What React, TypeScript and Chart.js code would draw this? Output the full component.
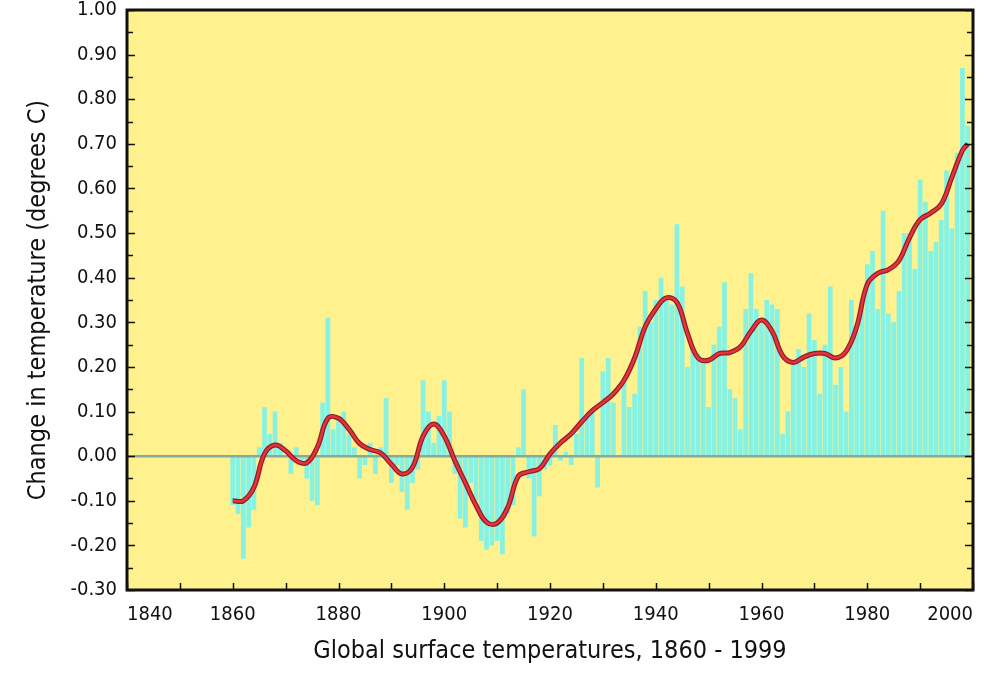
import React, { useEffect, useRef } from 'react';
import { Chart, registerables } from 'chart.js';

Chart.register(...registerables);

// Annual global surface temperature change, 1860 - 1999 (degrees C)
const startYear = 1860;
const annualAnomaly = [
  // 1860-1869
  -0.11, -0.13, -0.23, -0.16, -0.12, 0.02, 0.11, 0.05, 0.10, 0.03,
  // 1870-1879
  0.00, -0.04, 0.02, -0.02, -0.05, -0.10, -0.11, 0.12, 0.31, 0.06,
  // 1880-1889
  0.08, 0.10, 0.05, 0.02, -0.05, -0.02, 0.03, -0.04, 0.02, 0.13,
  // 1890-1899
  -0.06, -0.02, -0.08, -0.12, -0.06, -0.03, 0.17, 0.10, 0.03, 0.09,
  // 1900-1909
  0.17, 0.10, -0.04, -0.14, -0.16, -0.06, -0.10, -0.19, -0.21, -0.20,
  // 1910-1919
  -0.19, -0.22, -0.13, -0.11, 0.02, 0.15, -0.05, -0.18, -0.09, -0.03,
  // 1920-1929
  -0.02, 0.07, -0.01, 0.01, -0.02, 0.05, 0.22, 0.09, 0.10, -0.07,
  // 1930-1939
  0.19, 0.22, 0.12, 0.00, 0.17, 0.11, 0.14, 0.29, 0.37, 0.30,
  // 1940-1949
  0.35, 0.40, 0.35, 0.34, 0.52, 0.38, 0.20, 0.24, 0.23, 0.21,
  // 1950-1959
  0.11, 0.25, 0.29, 0.39, 0.15, 0.13, 0.06, 0.33, 0.41, 0.33,
  // 1960-1969
  0.30, 0.35, 0.34, 0.33, 0.05, 0.10, 0.21, 0.24, 0.20, 0.32,
  // 1970-1979
  0.26, 0.14, 0.25, 0.38, 0.16, 0.20, 0.10, 0.35, 0.28, 0.35,
  // 1980-1989
  0.43, 0.46, 0.33, 0.55, 0.32, 0.30, 0.37, 0.50, 0.50, 0.42,
  // 1990-1999
  0.62, 0.57, 0.46, 0.48, 0.53, 0.64, 0.51, 0.68, 0.87, 0.74,
];

// Smoothed curve
const smoothYears = [
  1860, 1862, 1864, 1866, 1868, 1870, 1872, 1874, 1876, 1878,
  1880, 1882, 1884, 1886, 1888, 1890, 1892, 1894, 1896, 1898,
  1900, 1902, 1904, 1906, 1908, 1910, 1912, 1914, 1916, 1918,
  1920, 1922, 1924, 1926, 1928, 1930, 1932, 1934, 1936, 1938,
  1940, 1942, 1944, 1946, 1948, 1950, 1952, 1954, 1956, 1958,
  1960, 1962, 1964, 1966, 1968, 1970, 1972, 1974, 1976, 1978,
  1980, 1982, 1984, 1986, 1988, 1990, 1992, 1994, 1996, 1998, 1999,
];
const smoothAnomaly = [
  -0.10, -0.10, -0.07, 0.005, 0.025, 0.012, -0.01, -0.015, 0.02, 0.085,
  0.085, 0.06, 0.028, 0.015, 0.007, -0.018, -0.04, -0.025, 0.045, 0.072,
  0.045, -0.01, -0.06, -0.11, -0.148, -0.15, -0.115, -0.045, -0.035, -0.028,
  0.005, 0.03, 0.05, 0.077, 0.102, 0.12, 0.14, 0.17, 0.22, 0.29,
  0.33, 0.355, 0.345, 0.275, 0.22, 0.215, 0.23, 0.232, 0.245, 0.28,
  0.305, 0.28, 0.225, 0.21, 0.222, 0.23, 0.23, 0.22, 0.235, 0.29,
  0.385, 0.41, 0.418, 0.438, 0.49, 0.53, 0.545, 0.565, 0.625, 0.685, 0.70,
];

const xMin = 1840;
const xMax = 2000;
const yMin = -0.3;
const yMax = 1.0;

const FONT = "'DejaVu Sans Condensed', 'Liberation Sans Narrow', 'Arial Narrow', sans-serif";

const framePlugin = {
  id: 'frame',
  beforeDraw(chart: any) {
    const { ctx, chartArea } = chart;
    ctx.save();
    ctx.fillStyle = '#FFF28E';
    ctx.fillRect(chartArea.left, chartArea.top, chartArea.right - chartArea.left, chartArea.bottom - chartArea.top);
    ctx.restore();
  },
  afterDraw(chart: any) {
    const { ctx, chartArea, scales } = chart;
    const { left, right, top, bottom } = chartArea;
    ctx.save();
    ctx.strokeStyle = '#111';
    // inward tick marks
    ctx.lineWidth = 1.5;
    const ys = scales.y;
    for (let k = 0; k <= Math.round((yMax - yMin) / 0.05); k++) {
      const v = yMin + k * 0.05;
      const py = Math.round(ys.getPixelForValue(v)) + 0.5;
      const len = k % 2 === 0 ? 8 : 6;
      ctx.beginPath();
      ctx.moveTo(left, py);
      ctx.lineTo(left + len, py);
      ctx.moveTo(right, py);
      ctx.lineTo(right - len, py);
      ctx.stroke();
    }
    const xs = scales.x;
    for (let yr = xMin; yr <= xMax; yr += 10) {
      const px = Math.round(xs.getPixelForValue(yr)) + 0.5;
      ctx.beginPath();
      ctx.moveTo(px, bottom);
      ctx.lineTo(px, bottom - 7);
      ctx.stroke();
    }
    ctx.lineWidth = 3;
    ctx.strokeRect(left, top, right - left, bottom - top);
    ctx.restore();
  },
};

export default function App() {
  const ref = useRef<HTMLCanvasElement>(null);
  useEffect(() => {
    document.body.style.margin = '0';
    const years = annualAnomaly.map((_, i) => startYear + i);
    const barData = years.map((x, i) => ({ x, y: annualAnomaly[i] }));
    const smoothData = smoothYears.map((x, i) => ({ x, y: smoothAnomaly[i] }));
    const chart = new Chart(ref.current as HTMLCanvasElement, {
      type: 'bar',
      data: {
        datasets: [
          {
            type: 'bar',
            data: barData as any,
            backgroundColor: '#88F2E2',
            borderWidth: 0,
            barPercentage: 0.9,
            categoryPercentage: 1,
            order: 4,
          } as any,
          {
            type: 'line',
            data: [{ x: xMin, y: 0 }, { x: xMax, y: 0 }],
            borderColor: '#86AA9C',
            borderWidth: 2.5,
            pointRadius: 0,
            order: 3,
          } as any,
          {
            type: 'line',
            data: smoothData,
            borderColor: '#8C1F2A',
            borderWidth: 5,
            pointRadius: 0,
            tension: 0.4,
            order: 2,
          } as any,
          {
            type: 'line',
            data: smoothData,
            borderColor: '#E8323A',
            borderWidth: 2.5,
            pointRadius: 0,
            tension: 0.4,
            order: 1,
          } as any,
        ],
      },
      options: {
        animation: false,
        responsive: false,
        layout: { padding: { left: 0, right: 14, top: 0, bottom: 0 } },
        plugins: { legend: { display: false }, tooltip: { enabled: false } },
        scales: {
          x: {
            type: 'linear',
            min: xMin,
            max: xMax,
            offset: false,
            grid: { display: false, drawTicks: false, offset: false },
            border: { display: false },
            ticks: {
              stepSize: 20,
              align: 'inner',
              padding: 13,
              color: '#111',
              maxRotation: 0,
              autoSkip: false,
              font: { family: FONT, size: 20 },
              callback: (v: any) => String(v),
            },
            title: {
              display: true,
              text: 'Global surface temperatures, 1860 - 1999',
              color: '#111',
              font: { family: FONT, size: 25 },
              padding: { top: 0, bottom: 8 },
            },
            afterFit: (s: any) => { s.height = 84; },
          } as any,
          y: {
            type: 'linear',
            min: yMin,
            max: yMax,
            grid: { display: false, drawTicks: false },
            border: { display: false },
            ticks: {
              stepSize: 0.1,
              padding: 10,
              color: '#111',
              font: { family: FONT, size: 20 },
              callback: (v: any) => Number(v).toFixed(2),
            },
            title: {
              display: true,
              text: 'Change in temperature (degrees C)',
              color: '#111',
              font: { family: FONT, size: 25 },
              padding: { top: 23, bottom: 0 },
            },
            afterFit: (s: any) => { s.width = 127; s.paddingTop = 10; s.paddingBottom = 0; },
          } as any,
        },
      },
      plugins: [framePlugin],
    });
    return () => chart.destroy();
  }, []);
  return (
    <div style={{ width: 987, height: 674, background: '#fff' }}>
      <canvas ref={ref} width={987} height={674} style={{ display: 'block' }} />
    </div>
  );
}
